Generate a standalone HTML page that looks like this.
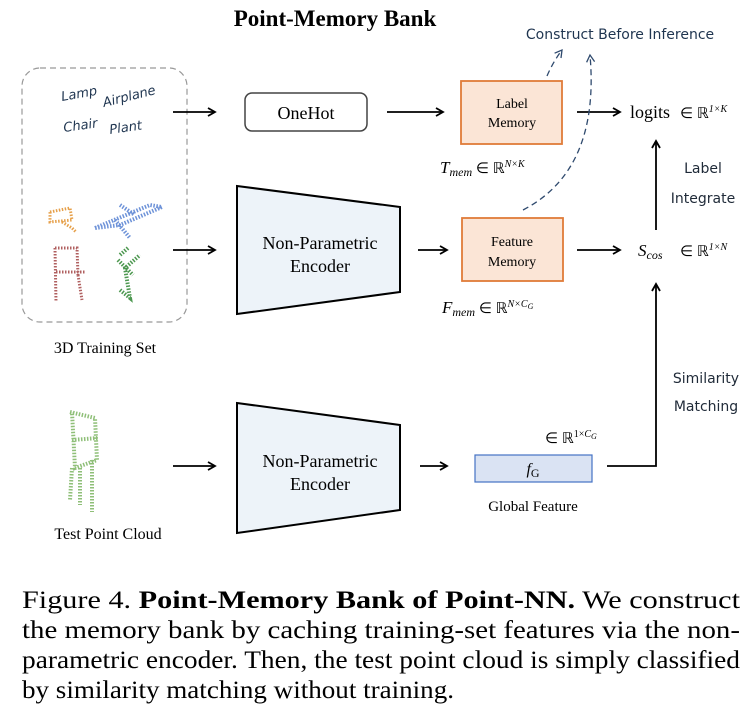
<!DOCTYPE html>
<html><head><meta charset="utf-8"><style>
body{margin:0;background:#fff;width:754px;height:720px;overflow:hidden}
svg{display:block}
.s{font-family:"Liberation Serif",serif}
.c{font-family:"DejaVu Sans",sans-serif}
</style></head><body>
<svg width="754" height="720" viewBox="0 0 754 720" xmlns="http://www.w3.org/2000/svg">
<defs>
<marker id="a" markerWidth="10" markerHeight="10" refX="8" refY="5" orient="auto" markerUnits="userSpaceOnUse"><path d="M1,1 L8,5 L1,9" fill="none" stroke="#000" stroke-width="1.8"/></marker>
<marker id="d" markerWidth="10" markerHeight="10" refX="8" refY="5" orient="auto" markerUnits="userSpaceOnUse"><path d="M1,1 L8,5 L1,9" fill="none" stroke="#2f4a6e" stroke-width="1.3"/></marker>
</defs>
<text x="335" y="26" text-anchor="middle" class="s" font-weight="bold" font-size="23">Point-Memory Bank</text>
<rect x="22" y="68" width="165" height="254" rx="18" fill="none" stroke="#999" stroke-dasharray="6,4" stroke-width="1.2"/>
<g class="c" font-style="italic" font-size="13" fill="#1f3550">
<text x="62" y="101" transform="rotate(-10 62 101)">Lamp</text>
<text x="104" y="107" transform="rotate(-14 104 107)">Airplane</text>
<text x="64" y="132" transform="rotate(-8 64 132)">Chair</text>
<text x="110" y="134" transform="rotate(-8 110 134)">Plant</text>
</g>
<g fill="none" stroke-dasharray="1.5,1.5">
<path d="M50,212 L70,208 L72,220 L50,222 Z M62,222 L72,228 L76,232" stroke="#e6a04a" stroke-width="3"/>
<path d="M95,228 L150,205 L162,207 L120,225 Z M120,205 L135,215 M115,220 L130,238" stroke="#6d92d8" stroke-width="4"/>
<path d="M55,248 L77,248 L78,275 M55,248 L56,302 M78,275 L82,300 M56,272 L86,272" stroke="#b06060" stroke-width="3"/>
<path d="M120,290 L130,298 L125,268 L140,255 M118,260 L133,275 M128,248 L120,255" stroke="#4d9850" stroke-width="4"/>
<path d="M70,412 L95,418 L97,460 L75,468 L72,412 M72,440 L98,438 M80,468 L80,505 M92,460 L92,512 M72,468 L70,500" stroke="#8fbf78" stroke-width="4"/>
</g>
<text x="105" y="353" text-anchor="middle" class="s" font-size="16">3D Training Set</text>
<text x="108" y="539" text-anchor="middle" class="s" font-size="16">Test Point Cloud</text>
<g stroke="#000" stroke-width="1.8" marker-end="url(#a)">
<line x1="173" y1="112" x2="215" y2="112"/>
<line x1="387" y1="112" x2="443" y2="112"/>
<line x1="577" y1="112" x2="620" y2="112"/>
<line x1="173" y1="250" x2="215" y2="250"/>
<line x1="418" y1="250" x2="447" y2="250"/>
<line x1="577" y1="250" x2="620" y2="250"/>
<line x1="656" y1="230" x2="656" y2="141"/>
<line x1="173" y1="466" x2="215" y2="466"/>
<line x1="420" y1="466" x2="447" y2="466"/>
</g>
<polyline points="607,466 656,466 656,284" fill="none" stroke="#000" stroke-width="1.8" marker-end="url(#a)"/>
<rect x="245" y="93" width="122" height="38" rx="7" fill="#fff" stroke="#444" stroke-width="1.5"/>
<text x="306" y="119" text-anchor="middle" class="s" font-size="18">OneHot</text>
<rect x="461" y="81" width="101" height="63" fill="#fbe5d6" stroke="#e07b39" stroke-width="1.8"/>
<text x="512" y="108" text-anchor="middle" class="s" font-size="14">Label</text>
<text x="512" y="127" text-anchor="middle" class="s" font-size="14">Memory</text>
<rect x="462" y="218" width="101" height="63" fill="#fbe5d6" stroke="#e07b39" stroke-width="1.8"/>
<text x="512" y="246" text-anchor="middle" class="s" font-size="14">Feature</text>
<text x="512" y="266" text-anchor="middle" class="s" font-size="14">Memory</text>
<path d="M237,186 L400,207 L400,292 L237,314 Z" fill="#edf3f9" stroke="#000" stroke-width="2"/>
<text x="320" y="249" text-anchor="middle" class="s" font-size="18">Non-Parametric</text>
<text x="320" y="272" text-anchor="middle" class="s" font-size="18">Encoder</text>
<path d="M237,403 L400,425 L400,510 L237,533 Z" fill="#edf3f9" stroke="#000" stroke-width="2"/>
<text x="320" y="467" text-anchor="middle" class="s" font-size="18">Non-Parametric</text>
<text x="320" y="490" text-anchor="middle" class="s" font-size="18">Encoder</text>
<rect x="475" y="455" width="117" height="27" fill="#dae3f3" stroke="#4472c4" stroke-width="1.2"/>
<text x="533" y="474" text-anchor="middle" class="s" font-style="italic" font-size="16">f<tspan font-style="normal" font-size="12" dy="3">G</tspan></text>
<text x="533" y="511" text-anchor="middle" class="s" font-size="15">Global Feature</text>
<text x="545" y="443" class="s" font-size="15">∈ ℝ<tspan font-size="10" dy="-6">1×<tspan font-style="italic">C<tspan font-size="8" dy="2">G</tspan></tspan></tspan></text>
<path d="M547,76 Q553,62 562,50" fill="none" stroke="#2f4a6e" stroke-width="1.3" stroke-dasharray="6,4" marker-end="url(#d)"/>
<path d="M523,210 Q600,170 590,55" fill="none" stroke="#2f4a6e" stroke-width="1.3" stroke-dasharray="6,4" marker-end="url(#d)"/>
<text x="620" y="39" text-anchor="middle" class="c" font-size="14" fill="#1f3550">Construct Before Inference</text>
<text x="630" y="118" class="s" font-size="18">logits</text>
<text x="680" y="118" class="s" font-size="15">∈ ℝ<tspan font-size="10" dy="-6" font-style="italic">1×K</tspan></text>
<text x="440" y="173" class="s" font-style="italic" font-size="17">T<tspan font-size="12" dy="3">mem</tspan><tspan dy="-3" font-style="normal" font-size="15"> ∈ ℝ</tspan><tspan font-size="10" dy="-6">N×K</tspan></text>
<text x="442" y="313" class="s" font-style="italic" font-size="17">F<tspan font-size="12" dy="3">mem</tspan><tspan dy="-3" font-style="normal" font-size="15"> ∈ ℝ</tspan><tspan font-size="10" dy="-6">N×C</tspan><tspan font-size="8" dy="2">G</tspan></text>
<text x="638" y="256" class="s" font-style="italic" font-size="17">S<tspan font-size="12" dy="3">cos</tspan></text>
<text x="680" y="256" class="s" font-size="15">∈ ℝ<tspan font-size="10" dy="-6" font-style="italic">1×N</tspan></text>
<g class="c" font-size="14" fill="#1f2a38" text-anchor="middle">
<text x="703" y="173">Label</text><text x="703" y="203">Integrate</text>
<text x="706" y="383">Similarity</text><text x="706" y="411">Matching</text>
</g>
<g class="s" font-size="25">
<text x="22" y="608" textLength="718" lengthAdjust="spacingAndGlyphs">Figure 4.   <tspan font-weight="bold">Point-Memory Bank of Point-NN.</tspan> We construct</text>
<text x="22" y="638" textLength="718" lengthAdjust="spacingAndGlyphs">the memory bank by caching training-set features via the non-</text>
<text x="22" y="668" textLength="718" lengthAdjust="spacingAndGlyphs">parametric encoder. Then, the test point cloud is simply classified</text>
<text x="22" y="698" textLength="432" lengthAdjust="spacingAndGlyphs">by similarity matching without training.</text>
</g>
</svg>
</body></html>
